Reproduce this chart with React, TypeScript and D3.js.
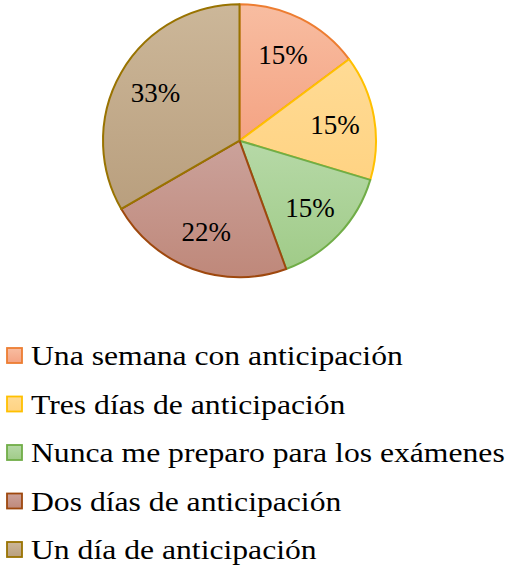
import React from "react";
import * as d3 from "d3";

const categories = [
  "Una semana con anticipación",
  "Tres días de anticipación",
  "Nunca me preparo para los exámenes",
  "Dos días de anticipación",
  "Un día de anticipación",
];
const values = [4, 4, 4, 6, 9];
const fillTop = ["#f8bda1", "#ffdb95", "#b6d9a7", "#cba29b", "#ccb799"];
const fillBottom = ["#f4a383", "#ffd383", "#a0cb88", "#bf887a", "#b99f7e"];
const strokes = ["#ed7d31", "#ffc000", "#70ad47", "#9e480e", "#997300"];

export default function App() {
  const W = 508;
  const H = 570;
  const cx = 239.5;
  const cy = 140.7;
  const r = 136.5;
  const total = d3.sum(values);
  const pie = d3.pie<number>().sort(null).value((d) => d);
  const arcs = pie(values);
  const arc = d3.arc<d3.PieArcDatum<number>>().innerRadius(0).outerRadius(r);
  const labelArc = d3
    .arc<d3.PieArcDatum<number>>()
    .innerRadius(r * 0.71)
    .outerRadius(r * 0.71);
  const legendY = d3
    .scalePoint<number>()
    .domain(d3.range(categories.length))
    .range([355.5, 549.5]);
  const font = '"Liberation Serif", Tinos, "Times New Roman", Times, "DejaVu Serif", serif';

  return (
    <svg
      width={W}
      height={H}
      style={{ position: "absolute", left: 0, top: 0, fontFamily: font }}
    >
      <defs>
        {categories.map((_, i) => (
          <linearGradient key={i} id={`g${i}`} x1="0" y1="0" x2="0" y2="1">
            <stop offset="0" stopColor={fillTop[i]} />
            <stop offset="1" stopColor={fillBottom[i]} />
          </linearGradient>
        ))}
      </defs>
      <rect width={W} height={H} fill="#ffffff" />
      <g transform={`translate(${cx},${cy})`}>
        {arcs.map((a, i) => (
          <path
            key={i}
            d={arc(a) || ""}
            fill={`url(#g${i})`}
            stroke={strokes[i]}
            strokeWidth={2}
            strokeLinejoin="round"
          />
        ))}
        {arcs.map((a, i) => {
          const [x, y] = labelArc.centroid(a);
          return (
            <text
              key={i}
              x={x}
              y={y}
              dy="0.36em"
              textAnchor="middle"
              style={{ fontFamily: font }}
              fontSize={27}
              fill="#000"
            >
              {`${Math.round((values[i] / total) * 100)}%`}
            </text>
          );
        })}
      </g>
      {categories.map((c, i) => {
        const y = legendY(i) as number;
        return (
          <g key={i}>
            <rect
              x={7}
              y={y - 7.5}
              width={15}
              height={15}
              fill={`url(#g${i})`}
              stroke={strokes[i]}
              strokeWidth={1.8}
            />
            <text
              transform={`translate(31,${y}) scale(1.195,1)`}
              dy="0.36em"
              style={{ fontFamily: font }}
              fontSize={26.5}
              fill="#000"
            >
              {c}
            </text>
          </g>
        );
      })}
    </svg>
  );
}
